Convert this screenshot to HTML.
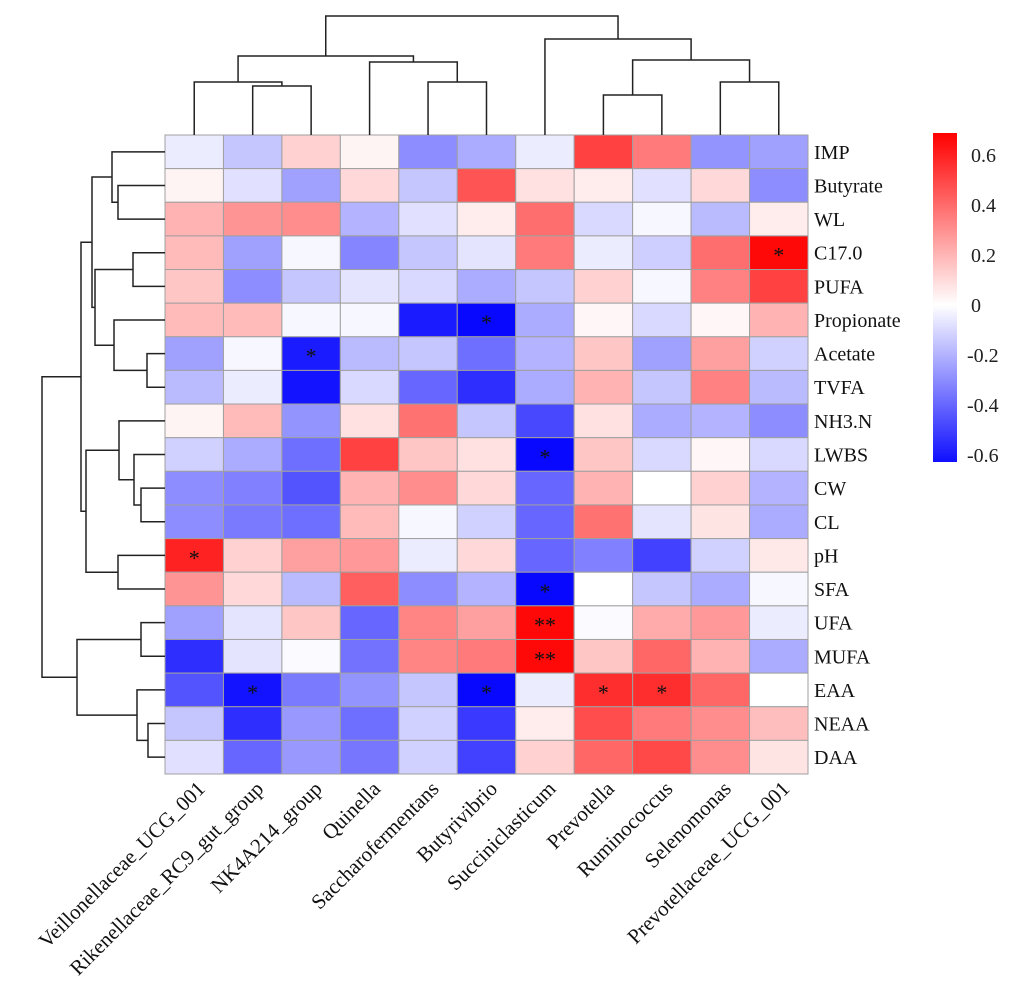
<!DOCTYPE html>
<html><head><meta charset="utf-8"><style>
body{margin:0;background:#fff;}
svg{display:block;font-family:"Liberation Serif",serif;}
</style></head><body>
<svg id="chart" width="1013" height="1001" viewBox="0 0 1013 1001" xmlns="http://www.w3.org/2000/svg">
<g id="cells"></g>
<g id="rowlabels"></g>
<g id="collabels"></g>
<g id="dendro" stroke="#222" stroke-width="1.5" fill="none"></g>
<g id="legend"></g>
</svg>
<script>
const columns = ["Veillonellaceae_UCG_001","Rikenellaceae_RC9_gut_group","NK4A214_group","Quinella","Saccharofermentans","Butyrivibrio","Succiniclasticum","Prevotella","Ruminococcus","Selenomonas","Prevotellaceae_UCG_001"];
const rows = ["IMP","Butyrate","WL","C17.0","PUFA","Propionate","Acetate","TVFA","NH3.N","LWBS","CW","CL","pH","SFA","UFA","MUFA","EAA","NEAA","DAA"];
const values = [
[-0.05,-0.15,0.12,0.03,-0.3,-0.22,-0.05,0.5,0.35,-0.28,-0.25],
[0.03,-0.08,-0.25,0.1,-0.15,0.45,0.08,0.05,-0.08,0.1,-0.3],
[0.2,0.28,0.3,-0.2,-0.08,0.05,0.38,-0.1,-0.02,-0.18,0.05],
[0.18,-0.25,-0.02,-0.32,-0.15,-0.07,0.35,-0.05,-0.13,0.38,0.65],
[0.15,-0.3,-0.15,-0.07,-0.1,-0.22,-0.15,0.12,-0.02,0.33,0.5],
[0.18,0.18,-0.02,-0.02,-0.6,-0.65,-0.22,0.02,-0.1,0.02,0.2],
[-0.25,-0.02,-0.6,-0.18,-0.15,-0.38,-0.2,0.15,-0.25,0.25,-0.12],
[-0.18,-0.05,-0.62,-0.1,-0.4,-0.55,-0.22,0.2,-0.15,0.33,-0.18],
[0.03,0.18,-0.28,0.08,0.37,-0.15,-0.48,0.08,-0.22,-0.2,-0.3],
[-0.12,-0.22,-0.38,0.5,0.15,0.08,-0.65,0.15,-0.1,0.02,-0.1],
[-0.3,-0.33,-0.45,0.2,0.3,0.1,-0.4,0.2,0.0,0.12,-0.2],
[-0.3,-0.35,-0.38,0.18,-0.02,-0.12,-0.4,0.37,-0.07,0.07,-0.22],
[0.58,0.12,0.25,0.27,-0.05,0.1,-0.4,-0.33,-0.5,-0.12,0.06],
[0.28,0.1,-0.18,0.42,-0.3,-0.2,-0.65,0.0,-0.15,-0.22,-0.02],
[-0.25,-0.07,0.15,-0.4,0.32,0.25,0.65,-0.01,0.22,0.27,-0.05],
[-0.55,-0.07,-0.01,-0.37,0.32,0.35,0.65,0.15,0.4,0.2,-0.22],
[-0.45,-0.62,-0.35,-0.28,-0.15,-0.65,-0.05,0.55,0.55,0.4,0.0],
[-0.15,-0.55,-0.27,-0.38,-0.12,-0.52,0.05,0.47,0.35,0.3,0.17],
[-0.08,-0.4,-0.27,-0.36,-0.12,-0.5,0.12,0.4,0.48,0.3,0.07]];
const stars = [[3,10,"*"],[5,5,"*"],[6,2,"*"],[9,6,"*"],[12,0,"*"],[13,6,"*"],[14,6,"**"],[15,6,"**"],[16,1,"*"],[16,5,"*"],[16,7,"*"],[16,8,"*"]];
const legendTicks = [0.6,0.4,0.2,0,-0.2,-0.4,-0.6];

const NS="http://www.w3.org/2000/svg";
const X0=165,X1=808,Y0=135,Y1=774;
const cw=(X1-X0)/columns.length, rh=(Y1-Y0)/rows.length;
const xc=i=>X0+cw*(i+0.5), yc=j=>Y0+rh*(j+0.5);
function color(v){const t=Math.max(-1,Math.min(1,v/0.67));
 if(t>=0){const g=Math.round(255*(1-t));return `rgb(255,${g},${g})`;}
 const g=Math.round(255*(1+t));return `rgb(${g},${g},255)`;}
function mk(tag,attrs,parent){const e=document.createElementNS(NS,tag);for(const k in attrs)e.setAttribute(k,attrs[k]);parent.appendChild(e);return e;}

const cells=document.getElementById('cells');
values.forEach((r,j)=>r.forEach((v,i)=>{
 const c=mk('rect',{x:X0+cw*i,y:Y0+rh*j,width:cw,height:rh,fill:color(v),stroke:'#a0a0a0','stroke-width':1},cells);
 
 
}));
stars.forEach(s=>{
 const t=mk('text',{x:xc(s[1]),y:yc(s[0])+10,'text-anchor':'middle','font-size':22,fill:'#111'},cells);
 t.textContent=s[2];
 
 
});
const rl=document.getElementById('rowlabels');
rows.forEach((n,j)=>{const t=mk('text',{x:814,y:yc(j)+7,'font-size':20,fill:'#111'},rl);t.textContent=n;
 
 });
const cl=document.getElementById('collabels');
columns.forEach((n,i)=>{const x=xc(i)+12,y=790;const t=mk('text',{x:x,y:y,'font-size':21,fill:'#111','text-anchor':'end',transform:`rotate(-45 ${x} ${y})`},cl);t.textContent=n;
 
 });

// dendrograms
const dg=document.getElementById('dendro');
function line(d){const p=mk('path',{d:d},dg);}
// top: node = [x, y]
function topJoin(a,b,h){line(`M${a[0]},${a[1]}V${h}H${b[0]}V${b[1]}`);return [(a[0]+b[0])/2,h];}
const L=i=>[xc(i),Y0];
const nRN=topJoin(L(1),L(2),86), nV=topJoin(L(0),nRN,82);
const nSB=topJoin(L(4),L(5),82), nQ=topJoin(L(3),nSB,62);
const nLeft=topJoin(nV,nQ,56);
const nPR=topJoin(L(7),L(8),95), nSP=topJoin(L(9),L(10),82), nRS=topJoin(nPR,nSP,60);
const nRight=topJoin(L(6),nRS,39);
topJoin(nLeft,nRight,16);
// left: node=[x,y]
function leftJoin(a,b,d){const x=X0-d;line(`M${a[0]},${a[1]}H${x}V${b[1]}H${b[0]}`);return [x,(a[1]+b[1])/2];}
const R=j=>[X0,yc(j)];
const nB=leftJoin(R(1),R(2),47), nC=leftJoin(R(0),nB,53);
const nD=leftJoin(R(3),R(4),32);
const nAT=leftJoin(R(6),R(7),18), nE=leftJoin(R(5),nAT,51);
const nF=leftJoin(nD,nE,70), nG=leftJoin(nC,nF,73);
const nCC=leftJoin(R(10),R(11),24), nLW=leftJoin(R(9),nCC,31), nH=leftJoin(R(8),nLW,46);
const nPS=leftJoin(R(12),R(13),47), nI=leftJoin(nH,nPS,79);
const nTop=leftJoin(nG,nI,84);
const nUM=leftJoin(R(14),R(15),24);
const nND=leftJoin(R(17),R(18),17), nEA=leftJoin(R(16),nND,28);
const nBot=leftJoin(nUM,nEA,88);
leftJoin(nTop,nBot,123);

// legend
const lg=document.getElementById('legend');
const LT=133,LB=462,LX=933,LW=24;
const vy=v=>305-v*250;
const defs=mk('defs',{},lg);
const gr=mk('linearGradient',{id:'lgGrad',x1:0,y1:0,x2:0,y2:1},defs);
[[0.69,LT],[0,vy(0)],[-0.63,LB]].forEach(p=>{mk('stop',{offset:(p[1]-LT)/(LB-LT),'stop-color':color(p[0])},gr);});
const bar=mk('rect',{x:LX,y:LT,width:LW,height:LB-LT,fill:'url(#lgGrad)'},lg);


legendTicks.forEach(v=>{const t=mk('text',{x:v<0?967:971,y:vy(v)+7,'font-size':20,fill:'#222'},lg);t.textContent=v===0?'0':String(v);
 
 });
</script>
</body></html>
